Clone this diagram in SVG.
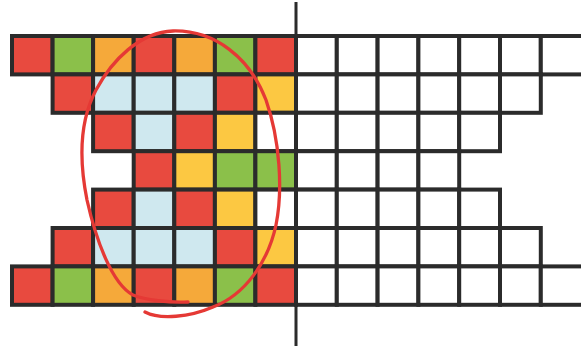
<svg xmlns="http://www.w3.org/2000/svg" width="581" height="354" viewBox="0 0 581 354">
<style>
rect{stroke:#2b2b2b;stroke-width:4}
.r{fill:#e84a3f}.g{fill:#8bc04a}.o{fill:#f5a93a}.y{fill:#fcc842}.b{fill:#cfe8ef}.w{fill:#ffffff}
</style>
<rect x="0" y="0" width="581" height="354" fill="#fff" style="stroke:none"/>
<g id="grid-left">
<g id="row0">
<rect class="r" x="12" y="36" width="40.6" height="38.4"/><rect class="g" x="52.6" y="36" width="40.5" height="38.4"/><rect class="o" x="93.1" y="36" width="40.6" height="38.4"/><rect class="r" x="133.7" y="36" width="40.6" height="38.4"/><rect class="o" x="174.3" y="36" width="40.6" height="38.4"/><rect class="g" x="214.9" y="36" width="40.5" height="38.4"/><rect class="r" x="255.4" y="36" width="40.6" height="38.4"/>
</g>
<g id="row1">
<rect class="r" x="52.6" y="74.4" width="40.5" height="38.4"/><rect class="b" x="93.1" y="74.4" width="40.6" height="38.4"/><rect class="b" x="133.7" y="74.4" width="40.6" height="38.4"/><rect class="b" x="174.3" y="74.4" width="40.6" height="38.4"/><rect class="r" x="214.9" y="74.4" width="40.5" height="38.4"/><rect class="y" x="255.4" y="74.4" width="40.6" height="38.4"/>
</g>
<g id="row2">
<rect class="r" x="93.1" y="112.8" width="40.6" height="38.4"/><rect class="b" x="133.7" y="112.8" width="40.6" height="38.4"/><rect class="r" x="174.3" y="112.8" width="40.6" height="38.4"/><rect class="y" x="214.9" y="112.8" width="40.5" height="38.4"/><rect class="w" x="255.4" y="112.8" width="40.6" height="38.4"/>
</g>
<g id="row3">
<rect class="r" x="133.7" y="151.2" width="40.6" height="38.4"/><rect class="y" x="174.3" y="151.2" width="40.6" height="38.4"/><rect class="g" x="214.9" y="151.2" width="40.5" height="38.4"/><rect class="g" x="255.4" y="151.2" width="40.6" height="38.4"/>
</g>
<g id="row4">
<rect class="r" x="93.1" y="189.6" width="40.6" height="38.4"/><rect class="b" x="133.7" y="189.6" width="40.6" height="38.4"/><rect class="r" x="174.3" y="189.6" width="40.6" height="38.4"/><rect class="y" x="214.9" y="189.6" width="40.5" height="38.4"/><rect class="w" x="255.4" y="189.6" width="40.6" height="38.4"/>
</g>
<g id="row5">
<rect class="r" x="52.6" y="228" width="40.5" height="38.4"/><rect class="b" x="93.1" y="228" width="40.6" height="38.4"/><rect class="b" x="133.7" y="228" width="40.6" height="38.4"/><rect class="b" x="174.3" y="228" width="40.6" height="38.4"/><rect class="r" x="214.9" y="228" width="40.5" height="38.4"/><rect class="y" x="255.4" y="228" width="40.6" height="38.4"/>
</g>
<g id="row6">
<rect class="r" x="12" y="266.4" width="40.6" height="38.4"/><rect class="g" x="52.6" y="266.4" width="40.5" height="38.4"/><rect class="o" x="93.1" y="266.4" width="40.6" height="38.4"/><rect class="r" x="133.7" y="266.4" width="40.6" height="38.4"/><rect class="o" x="174.3" y="266.4" width="40.6" height="38.4"/><rect class="g" x="214.9" y="266.4" width="40.5" height="38.4"/><rect class="r" x="255.4" y="266.4" width="40.6" height="38.4"/>
</g>
</g>
<g id="grid-right">
<g id="rrow0"><rect class="w" x="296" y="36" width="40.8" height="38.4"/><rect class="w" x="336.8" y="36" width="40.8" height="38.4"/><rect class="w" x="377.6" y="36" width="40.8" height="38.4"/><rect class="w" x="418.4" y="36" width="40.8" height="38.4"/><rect class="w" x="459.2" y="36" width="40.8" height="38.4"/><rect class="w" x="500" y="36" width="40.8" height="38.4"/><rect class="w" x="540.8" y="36" width="44" height="38.4"/></g>
<g id="rrow1"><rect class="w" x="296" y="74.4" width="40.8" height="38.4"/><rect class="w" x="336.8" y="74.4" width="40.8" height="38.4"/><rect class="w" x="377.6" y="74.4" width="40.8" height="38.4"/><rect class="w" x="418.4" y="74.4" width="40.8" height="38.4"/><rect class="w" x="459.2" y="74.4" width="40.8" height="38.4"/><rect class="w" x="500" y="74.4" width="40.8" height="38.4"/></g>
<g id="rrow2"><rect class="w" x="296" y="112.8" width="40.8" height="38.4"/><rect class="w" x="336.8" y="112.8" width="40.8" height="38.4"/><rect class="w" x="377.6" y="112.8" width="40.8" height="38.4"/><rect class="w" x="418.4" y="112.8" width="40.8" height="38.4"/><rect class="w" x="459.2" y="112.8" width="40.8" height="38.4"/></g>
<g id="rrow3"><rect class="w" x="296" y="151.2" width="40.8" height="38.4"/><rect class="w" x="336.8" y="151.2" width="40.8" height="38.4"/><rect class="w" x="377.6" y="151.2" width="40.8" height="38.4"/><rect class="w" x="418.4" y="151.2" width="40.8" height="38.4"/></g>
<g id="rrow4"><rect class="w" x="296" y="189.6" width="40.8" height="38.4"/><rect class="w" x="336.8" y="189.6" width="40.8" height="38.4"/><rect class="w" x="377.6" y="189.6" width="40.8" height="38.4"/><rect class="w" x="418.4" y="189.6" width="40.8" height="38.4"/><rect class="w" x="459.2" y="189.6" width="40.8" height="38.4"/></g>
<g id="rrow5"><rect class="w" x="296" y="228" width="40.8" height="38.4"/><rect class="w" x="336.8" y="228" width="40.8" height="38.4"/><rect class="w" x="377.6" y="228" width="40.8" height="38.4"/><rect class="w" x="418.4" y="228" width="40.8" height="38.4"/><rect class="w" x="459.2" y="228" width="40.8" height="38.4"/><rect class="w" x="500" y="228" width="40.8" height="38.4"/></g>
<g id="rrow6"><rect class="w" x="296" y="266.4" width="40.8" height="38.4"/><rect class="w" x="336.8" y="266.4" width="40.8" height="38.4"/><rect class="w" x="377.6" y="266.4" width="40.8" height="38.4"/><rect class="w" x="418.4" y="266.4" width="40.8" height="38.4"/><rect class="w" x="459.2" y="266.4" width="40.8" height="38.4"/><rect class="w" x="500" y="266.4" width="40.8" height="38.4"/><rect class="w" x="540.8" y="266.4" width="44" height="38.4"/></g>
</g>
<g id="connectors">
<line x1="296" y1="2" x2="296" y2="346" stroke="#2b2b2b" stroke-width="3"/>
<path d="M188,302 C170,303 145,300 133,295 C112,284 96,240 87,200 C79,160 80,120 96,90 C112,60 140,32 173,31 C215,30 250,58 266,100 C280,140 283,190 276,225 C268,262 245,295 213,307 C190,317 160,320 145,312" fill="none" stroke="#e53935" stroke-width="3.3" stroke-linecap="round"/>
</g>
</svg>
